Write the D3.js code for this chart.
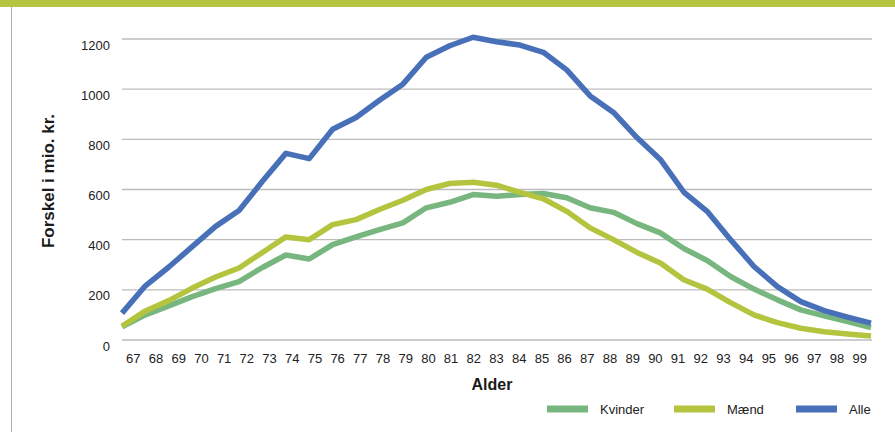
<!DOCTYPE html>
<html>
<head>
<meta charset="utf-8">
<script src="https://cdn.jsdelivr.net/npm/d3@7/dist/d3.min.js"></script>
<style>
  body { margin: 0; background: #fff; }
  svg { display: block; font-family: "Liberation Sans", Arial, sans-serif; }
</style>
</head>
<body>
<svg id="chart" width="895" height="432"></svg>
<script>
'use strict';

// ages on the x axis
const ages = [67, 68, 69, 70, 71, 72, 73, 74, 75, 76, 77, 78, 79, 80, 81, 82, 83,
              84, 85, 86, 87, 88, 89, 90, 91, 92, 93, 94, 95, 96, 97, 98, 99];

// difference in mio. kr.
const kvinder = [53, 100, 136, 173, 205, 233, 289, 339, 323, 380, 411, 440, 467, 527, 549, 580, 573,
                 580, 584, 567, 527, 509, 464, 427, 365, 317, 253, 203, 160, 120, 96, 73, 49];
const maend   = [55, 116, 157, 207, 251, 287, 349, 411, 400, 460, 480, 520, 557, 600, 624, 629, 617,
                 589, 563, 513, 447, 400, 349, 307, 240, 203, 149, 100, 69, 47, 33, 24, 16];
const alle    = [107, 216, 291, 372, 453, 516, 633, 744, 723, 840, 887, 956, 1020, 1127, 1173, 1207, 1189,
                 1176, 1147, 1077, 973, 907, 807, 720, 590, 513, 400, 293, 213, 153, 117, 91, 67];

const yTicks = [0, 200, 400, 600, 800, 1000, 1200];

const seriesNames = ["Kvinder", "Mænd", "Alle"];
const seriesColors = ["#78b67f", "#b5c43e", "#4870b8"];

const svg = d3.select("#chart");
const plotLeft = 122, plotRight = 871, plotTop = 39, plotBottom = 340;

// top green band and left frame line
svg.append("rect").attr("x", 0).attr("y", 0).attr("width", 895).attr("height", 7).attr("fill", "#b5c542");
svg.append("line").attr("x1", 11.5).attr("x2", 11.5).attr("y1", 7).attr("y2", 432)
    .attr("stroke", "#b0b0b0").attr("stroke-width", 1);

const x = d3.scalePoint().domain(ages).range([plotLeft, plotRight]);
const xBand = d3.scaleBand().domain(ages).range([plotLeft, plotRight]);
const y = d3.scaleLinear().domain([0, 1200]).range([plotBottom, plotTop]);

// gridlines
svg.append("g")
    .selectAll("line")
    .data(yTicks)
    .enter().append("line")
      .attr("x1", plotLeft)
      .attr("x2", plotRight + 1)
      .attr("y1", (d) => y(d))
      .attr("y2", (d) => y(d))
      .attr("stroke", "#bcbcbc")
      .attr("stroke-width", 1.4);

// y tick labels
svg.append("g")
    .selectAll("text")
    .data(yTicks)
    .enter().append("text")
      .attr("x", 110)
      .attr("y", (d) => y(d) + 6)
      .attr("dy", "0.35em")
      .attr("text-anchor", "end")
      .attr("fill", "#222")
      .style("font-size", "13px")
      .text((d) => d);

// x tick labels (centered on bands)
svg.append("g")
    .selectAll("text")
    .data(ages)
    .enter().append("text")
      .attr("x", (d) => xBand(d) + xBand.bandwidth() / 2)
      .attr("y", 358)
      .attr("dy", "0.35em")
      .attr("text-anchor", "middle")
      .attr("fill", "#222")
      .style("font-size", "13px")
      .text((d) => d);

// axis titles
svg.append("text")
    .attr("x", 492)
    .attr("y", 384)
    .attr("dy", "0.35em")
    .attr("text-anchor", "middle")
    .attr("fill", "#1a1a1a")
    .style("font-size", "16px")
    .style("font-weight", "bold")
    .text("Alder");

svg.append("text")
    .attr("transform", "translate(48,181) rotate(-90)")
    .attr("dy", "0.35em")
    .attr("text-anchor", "middle")
    .attr("fill", "#1a1a1a")
    .style("font-size", "17px")
    .style("font-weight", "bold")
    .text("Forskel i mio. kr.");

// lines
const line = d3.line()
    .x((d, i) => x(ages[i]))
    .y((d) => y(d));

const series = [kvinder, maend, alle];

svg.append("g")
    .selectAll("path")
    .data(series)
    .enter().append("path")
      .attr("d", (d) => line(d))
      .attr("fill", "none")
      .attr("stroke", (d, i) => seriesColors[i])
      .attr("stroke-width", 5.5)
      .attr("stroke-linejoin", "round");

// legend
const legendX = [547, 674, 796];
const legend = svg.append("g")
    .selectAll("g")
    .data(seriesNames)
    .enter().append("g")
      .attr("transform", (d, i) => "translate(" + legendX[i] + ",409)");

legend.append("rect")
    .attr("x", 0)
    .attr("y", -3.5)
    .attr("width", 41)
    .attr("height", 7)
    .attr("fill", (d, i) => seriesColors[i]);

legend.append("text")
    .attr("x", 53)
    .attr("y", 0)
    .attr("dy", "0.35em")
    .attr("fill", "#222")
    .style("font-size", "13px")
    .text((d) => d);
</script>
</body>
</html>
